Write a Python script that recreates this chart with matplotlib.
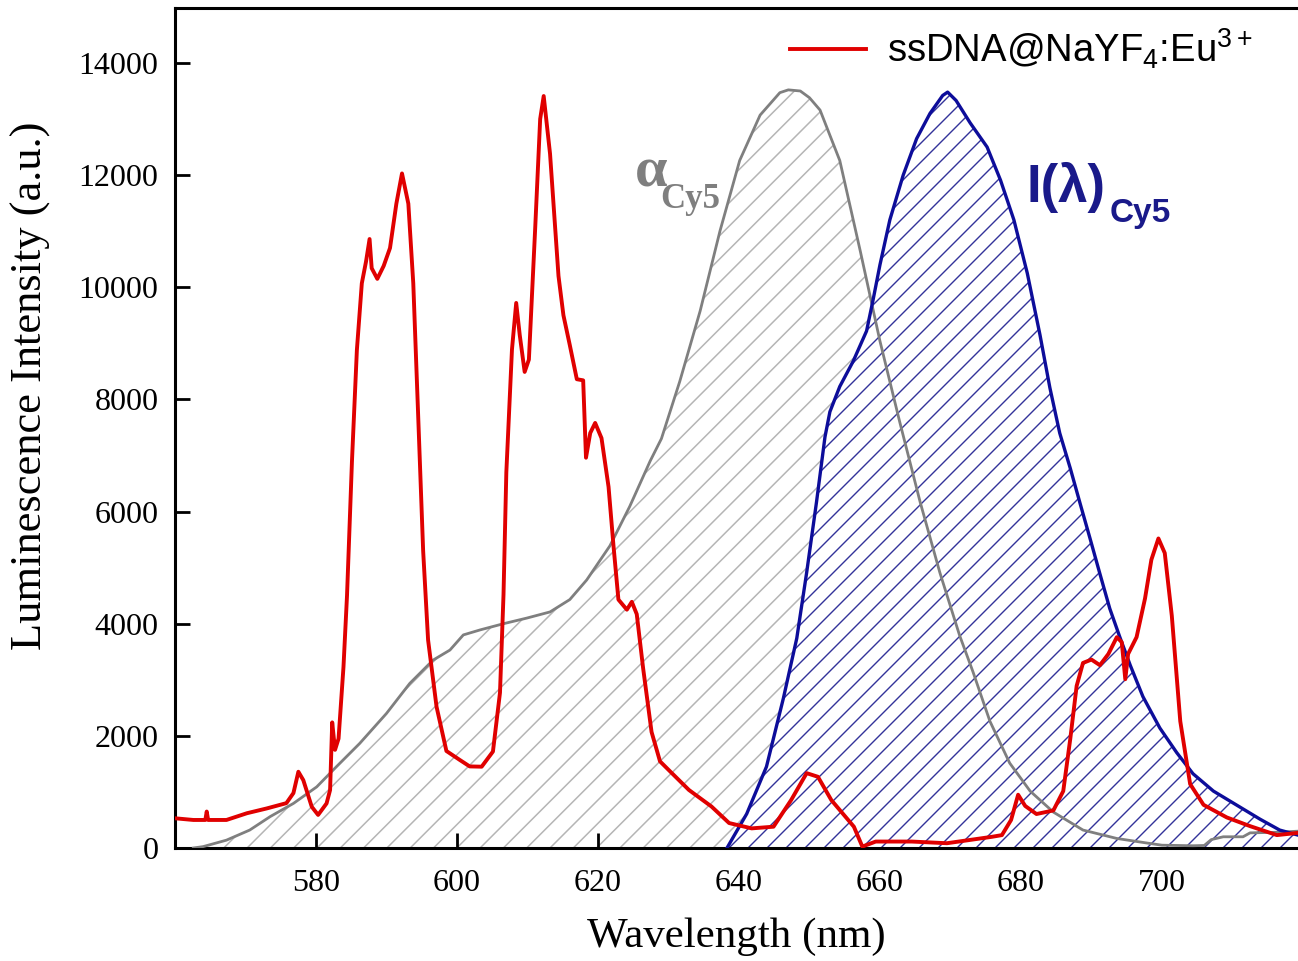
import numpy as np
import matplotlib
matplotlib.use('Agg')
import matplotlib.pyplot as plt
from matplotlib.collections import LineCollection
from matplotlib.transforms import IdentityTransform

# Eu3+ emission (red)
eu_x = [560, 562.6, 564.3, 564.5, 564.7, 567.3, 570.2, 573, 575.8, 576.8, 577.5, 578.2, 579.4,
        580.3, 581.5, 582, 582.3, 582.7, 583.2, 583.9, 584.4, 585.1, 585.8, 586.5, 587.1, 587.6,
        587.9, 588.7, 589.6, 590.5, 591.4, 592.2, 593.1, 593.8, 594.5, 595.2, 595.9, 597.1, 598.5,
        600.4, 601.8, 603.5, 605.1, 606.1, 606.6, 607, 607.8, 608.4, 608.9, 609.6, 610.2, 611.1,
        611.8, 612.3, 613.2, 614.4, 615.1, 616, 617, 617.9, 618.3, 618.9, 619.6, 620.5, 621.5,
        622.2, 622.9, 624.1, 624.8, 625.5, 626.4, 627.6, 628.8, 630.2, 632.9, 636.1, 638.6, 641.8,
        644.9, 647.4, 649.6, 651.2, 653.1, 656.3, 657.5, 659.4, 664.5, 669.5, 675.9, 677.3, 678.6,
        679.6, 680.6, 682.2, 684.6, 686, 687, 687.9, 688.8, 690, 691.2, 692.4, 693.6, 694.3, 694.8,
        695.2, 696.4, 697.6, 698.5, 699.5, 700.4, 701.4, 702.6, 704, 705.9, 709.2, 712.5, 716.3, 719.3]
eu_y = [530, 500, 500, 650, 500, 500, 620, 705, 800, 980, 1360, 1210, 735,
        590, 795, 1035, 2240, 1750, 1950, 3230, 4500, 6890, 8880, 10070, 10460, 10860,
        10340, 10150, 10380, 10700, 11490, 12030, 11490, 10070, 7690, 5300, 3710, 2520, 1730,
        1570, 1455, 1450, 1720, 2770, 4520, 6700, 8890, 9720, 9150, 8490, 8710, 11070,
        13000, 13410, 12380, 10200, 9500, 8970, 8360, 8340, 6960, 7400, 7580, 7310, 6440,
        5390, 4430, 4250, 4390, 4170, 3210, 2070, 1545, 1370, 1035, 740, 445, 350,
        380, 855, 1335, 1270, 855, 380, 25, 115, 115, 85, 200, 230, 500,
        950, 750, 606, 670, 1015, 1950, 2890, 3300, 3360, 3260, 3460, 3760, 3670, 3010,
        3460, 3760, 4450, 5140, 5520, 5260, 4140, 2260, 1140, 770, 545, 390, 230, 270]

# Cy5 absorption (grey)
abs_x = [562.6, 564, 567.3, 570.6, 573.5, 576.8, 580.1, 582.9, 586.2, 590, 593.3, 596.6, 599,
         600.9, 603.3, 606.6, 609.9, 613.2, 616, 618.4, 621.7, 624.5, 627.4, 629, 631.6, 634.5,
         637.3, 640.1, 643, 645.8, 647, 648.7, 650, 651.5, 654.3, 657.2, 660, 662.8, 665.7, 668.5,
         671.3, 673.2, 675.6, 678.4, 681.3, 684.6, 688.8, 693.6, 697.8, 700, 704.4, 706, 707,
         708.7, 711.5, 712.5, 716.3, 719.3]
abs_y = [0, 25, 140, 320, 560, 795, 1090, 1450, 1865, 2400, 2935, 3350, 3530,
         3800, 3890, 4000, 4100, 4210, 4430, 4780, 5390, 6090, 6900, 7300, 8320, 9580,
         11000, 12260, 13070, 13470, 13520, 13500, 13380, 13160, 12260, 10650, 9040, 7600, 6170, 4910,
         3790, 3140, 2260, 1515, 1015, 640, 320, 170, 90, 50, 40, 45, 150,
         200, 200, 270, 280, 300]

# Cy5 emission (blue)
em_x = [638.3, 641.1, 643.9, 646.3, 648.2, 649.6, 651, 652.2, 652.9, 654.3, 656.2, 658.1, 659,
        660, 661.4, 663.3, 665.2, 667.1, 668.9, 669.6, 670.8, 672.8, 675.2, 677.1, 679, 680.9,
        682.7, 684.1, 685.5, 687, 688.4, 689.8, 691.2, 692.6, 694, 695.5, 697.3, 699.7, 702.1,
        704.4, 707.3, 710.6, 713.9, 716.7, 719.3]
em_y = [0, 610, 1450, 2670, 3740, 4910, 6170, 7330, 7780, 8230, 8680, 9220, 9760,
        10400, 11200, 12000, 12650, 13100, 13420, 13480, 13330, 12930, 12500, 11910, 11200, 10250,
        9150, 8210, 7400, 6770, 6140, 5520, 4890, 4270, 3770, 3260, 2700, 2140, 1700,
        1325, 1015, 765, 515, 320, 230]

xticks = [580, 600, 620, 640, 660, 680, 700]
yticks = [0, 2000, 4000, 6000, 8000, 10000, 12000, 14000]

RED = '#e00000'
GREY = '#7f7f7f'
BLUE = '#0d0d9a'

fig = plt.figure(figsize=(12.98, 9.61), dpi=100)
ax = fig.add_axes([175 / 1298, 113 / 961, 1123 / 1298, 840 / 961])


def hatch(coll, spacing, color, lw, z):
    # diagonal lines in pixel space, clipped to the filled area
    W, H = 1298, 961
    segs = [[(c, 0), (c + H, H)] for c in np.arange(-H, W, spacing)]
    lc = LineCollection(segs, colors=color, linewidths=lw,
                        transform=IdentityTransform(), zorder=z)
    ax.add_collection(lc, autolim=False)
    lc.set_clip_path(coll.get_paths()[0], ax.transData)


g = ax.fill_between(abs_x, abs_y, 0, facecolor='none', edgecolor='none', zorder=1)
hatch(g, 23.3, '#b5b5b5', 1.1, 1.1)
b = ax.fill_between(em_x, em_y, 0, facecolor='white', edgecolor='none', zorder=2)
hatch(b, 19, '#33339a', 1.0, 2.1)

ax.plot(abs_x, abs_y, color=GREY, lw=2.0, zorder=3)
ax.plot(em_x, em_y, color=BLUE, lw=2.4, zorder=3)
line, = ax.plot(eu_x, eu_y, color=RED, lw=2.8, zorder=4,
                label=r'ssDNA@NaYF$_4$:Eu$^{3+}$')

ax.set_xlim(560, 719.3)
ax.set_ylim(0, 14980)
ax.set_xticks(xticks)
ax.set_yticks(yticks)
ax.tick_params(direction='in', length=11, width=2, labelsize=23)
ax.tick_params(axis='x', pad=15)
ax.tick_params(axis='y', pad=12)
for lab in ax.get_xticklabels() + ax.get_yticklabels():
    lab.set_family('Liberation Serif')
for s in ['left', 'bottom', 'top']:
    ax.spines[s].set_linewidth(2.2)
ax.spines['right'].set_visible(False)

ax.set_xlabel('Wavelength (nm)', family='Liberation Serif', fontsize=31, labelpad=14)
ax.set_ylabel('Luminescence Intensity (a.u.)', family='Liberation Serif', fontsize=32)
ax.yaxis.set_label_coords(-0.11, 0.55)

plt.rcParams['mathtext.fontset'] = 'custom'
plt.rcParams['mathtext.rm'] = 'Liberation Sans'
plt.rcParams['mathtext.it'] = 'Liberation Sans'
leg = ax.legend(handles=[line], loc='upper left', frameon=False,
                bbox_to_anchor=(790 / 1298, 1 - 27 / 961), bbox_transform=fig.transFigure,
                borderpad=0, borderaxespad=0, handlelength=2.0, handletextpad=0.55,
                prop={'family': 'Liberation Sans', 'size': 27.5})

ax.text(627.5, 12050, 'α', ha='center', va='center', fontsize=42,
        family='Liberation Serif', weight='bold', color=GREY)
ax.text(628.8, 11414, 'Cy5', ha='left', va='baseline', fontsize=25,
        family='Liberation Serif', weight='bold', color=GREY)
ax.text(680.8, 11527, 'I(λ)', ha='left', va='baseline', fontsize=38,
        family='Liberation Sans', weight='bold', color='#1a1a8a')
ax.text(692.6, 11170, 'Cy5', ha='left', va='baseline', fontsize=24,
        family='Liberation Sans', weight='bold', color='#1a1a8a')

fig.savefig('out.png', dpi=100)
